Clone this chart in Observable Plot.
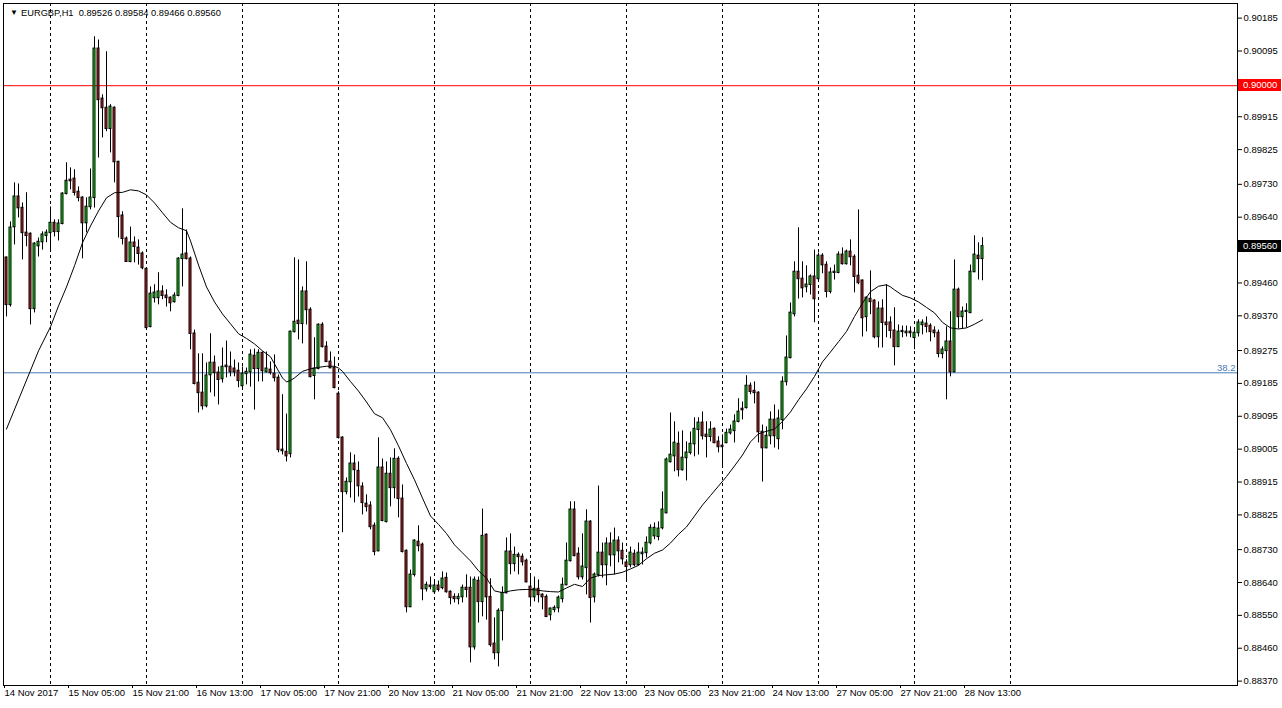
<!DOCTYPE html>
<html><head><meta charset="utf-8">
<script src="https://cdn.jsdelivr.net/npm/d3@7"></script>
<script src="https://cdn.jsdelivr.net/npm/@observablehq/plot@0.6"></script>
<style>html,body{margin:0;padding:0;background:#fff;overflow:hidden}svg{display:block}</style>
</head><body><div id="chart"></div>
<script>
// EURGBP H1 candles, 14 Nov 2017 13:00 .. 28 Nov 2017 17:00 (index = bar number)
const open = [
.89529,.89400,.89613,.89696,.89665,.89597,.89594,.89389,.89561,.89572,
.89589,.89597,.89624,.89600,.89622,.89704,.89742,.89745,.89709,.89693,
.89624,.89668,.89693,.90101,.89964,.89939,.89882,.89939,.89791,.89644,
.89581,.89518,.89570,.89556,.89540,.89498,.89340,.89419,.89419,.89436,
.89425,.89419,.89408,.89425,.89526,.89540,.89526,.89321,.89186,.89159,
.89123,.89208,.89241,.89214,.89197,.89233,.89230,.89225,.89219,.89178,
.89211,.89216,.89260,.89225,.89268,.89216,.89222,.89211,.89200,.89003,
.88997,.88992,.89326,.89356,.89348,.89436,.89386,.89206,.89225,.89345,
.89285,.89244,.89227,.89156,.89036,.88888,.88915,.88965,.88945,.88902,
.88855,.88850,.88795,.88726,.88954,.88806,.88937,.88899,.88978,.88869,
.88726,.88573,.88661,.88751,.88743,.88622,.88631,.88614,.88631,.88625,
.88652,.88614,.88600,.88595,.88600,.88625,.88625,.88463,.88644,.88587,
.88770,.88600,.88472,.88447,.88562,.88611,.88724,.88691,.88715,.88710,
.88699,.88628,.88600,.88622,.88606,.88600,.88551,.88565,.88570,.88595,
.88633,.88699,.88839,.88718,.88655,.88680,.88806,.88600,.88661,.88721,
.88688,.88746,.88715,.88754,.88726,.88694,.88688,.88718,.88688,.88718,
.88721,.88748,.88767,.88765,.88789,.88830,.88970,.88986,.89019,.88948,
.88981,.88995,.89019,.89058,.89077,.89044,.89039,.89060,.89025,.89014,
.89022,.89049,.89055,.89080,.89115,.89118,.89178,.89164,.89159,.89052,
.89008,.89041,.89085,.89033,.89085,.89189,.89255,.89375,.89490,.89471,
.89449,.89455,.89477,.89471,.89534,.89509,.89436,.89488,.89488,.89537,
.89512,.89545,.89531,.89479,.89466,.89367,.89416,.89411,.89312,.89389,
.89351,.89351,.89329,.89285,.89326,.89323,.89326,.89310,.89323,.89345,
.89348,.89342,.89329,.89323,.89266,.89274,.89299,.89216,.89441,.89367,
.89381,.89378,.89490,.89534,.89526];
const high = [
.89531,.89627,.89734,.89731,.89679,.89707,.89597,.89570,.89583,.89600,
.89605,.89668,.89633,.89633,.89707,.89789,.89775,.89770,.89723,.89696,
.89693,.89772,.90134,.90125,.89975,.90093,.89948,.89942,.89793,.89655,
.89586,.89613,.89586,.89578,.89545,.89500,.89449,.89455,.89488,.89452,
.89441,.89422,.89433,.89529,.89663,.89605,.89531,.89331,.89266,.89266,
.89241,.89321,.89260,.89230,.89282,.89301,.89271,.89249,.89241,.89230,
.89227,.89277,.89279,.89277,.89271,.89271,.89244,.89263,.89208,.89154,
.89101,.89328,.89529,.89523,.89449,.89518,.89392,.89310,.89348,.89351,
.89299,.89271,.89257,.89162,.89039,.88926,.88995,.88989,.88970,.88913,
.88880,.88861,.88803,.89036,.88978,.88970,.88981,.89006,.88984,.88907,
.88729,.88674,.88757,.88795,.88748,.88641,.88655,.88647,.88644,.88669,
.88666,.88617,.88609,.88609,.88633,.88661,.88655,.88655,.88655,.88841,
.88773,.88650,.88543,.88568,.88628,.88762,.88773,.88737,.88721,.88718,
.88704,.88663,.88655,.88647,.88609,.88606,.88570,.88576,.88603,.88652,
.88748,.88861,.88861,.88735,.88773,.88839,.88809,.88666,.88904,.88748,
.88762,.88776,.88789,.88765,.88748,.88702,.88737,.88729,.88748,.88735,
.88765,.88798,.88803,.88806,.88888,.88981,.89104,.89080,.89052,.89055,
.89025,.89052,.89091,.89091,.89107,.89080,.89080,.89063,.89039,.89044,
.89060,.89071,.89099,.89143,.89134,.89206,.89186,.89189,.89162,.89071,
.89066,.89107,.89126,.89112,.89203,.89315,.89405,.89518,.89611,.89518,
.89507,.89482,.89550,.89542,.89540,.89518,.89501,.89509,.89545,.89556,
.89550,.89578,.89537,.89660,.89468,.89422,.89493,.89414,.89408,.89414,
.89455,.89367,.89392,.89345,.89342,.89342,.89340,.89331,.89359,.89359,
.89367,.89348,.89340,.89331,.89285,.89340,.89381,.89523,.89446,.89394,
.89403,.89509,.89589,.89570,.89584];
const low = [
.89367,.89394,.89564,.89638,.89523,.89559,.89345,.89378,.89531,.89550,
.89570,.89545,.89586,.89575,.89619,.89701,.89715,.89698,.89682,.89526,
.89597,.89660,.89665,.89802,.89857,.89874,.89816,.89734,.89583,.89564,
.89516,.89515,.89515,.89509,.89496,.89331,.89337,.89405,.89400,.89414,
.89394,.89381,.89405,.89422,.89449,.89523,.89277,.89181,.89104,.89112,
.89118,.89159,.89148,.89126,.89186,.89200,.89203,.89203,.89173,.89167,
.89181,.89175,.89112,.89189,.89189,.89214,.89208,.89189,.88995,.88989,
.88970,.88981,.89323,.89304,.89293,.89345,.89200,.89140,.89222,.89282,
.89242,.89225,.89170,.89033,.88776,.88880,.88871,.88858,.88874,.88825,
.88833,.88784,.88713,.88724,.88806,.88803,.88847,.88869,.88817,.88721,
.88557,.88571,.88655,.88724,.88590,.88614,.88620,.88611,.88614,.88620,
.88611,.88579,.88584,.88579,.88584,.88598,.88420,.88455,.88529,.88546,
.88537,.88463,.88428,.88409,.88480,.88609,.88661,.88669,.88661,.88685,
.88639,.88573,.88587,.88584,.88565,.88544,.88535,.88557,.88557,.88584,
.88631,.88696,.88710,.88647,.88647,.88606,.88529,.88584,.88655,.88652,
.88631,.88683,.88661,.88694,.88688,.88641,.88680,.88683,.88685,.88688,
.88707,.88743,.88757,.88754,.88784,.88828,.88967,.88943,.88929,.88945,
.88918,.88989,.88984,.88989,.89030,.88981,.89025,.89020,.88995,.88954,
.89020,.89044,.89022,.89077,.89085,.89115,.89154,.89129,.89022,.88915,
.89006,.89017,.89008,.89003,.89058,.89178,.89252,.89367,.89416,.89419,
.89433,.89427,.89351,.89466,.89485,.89419,.89430,.89468,.89485,.89509,
.89509,.89507,.89433,.89455,.89312,.89326,.89373,.89307,.89282,.89282,
.89310,.89307,.89233,.89283,.89310,.89312,.89310,.89277,.89312,.89318,
.89323,.89299,.89310,.89255,.89252,.89140,.89203,.89214,.89334,.89334,
.89337,.89376,.89488,.89468,.89466];
const close = [
.89400,.89611,.89696,.89665,.89597,.89589,.89389,.89567,.89572,.89592,
.89597,.89624,.89600,.89622,.89704,.89739,.89739,.89707,.89693,.89624,
.89668,.89693,.90101,.89961,.89939,.89882,.89942,.89791,.89641,.89581,
.89518,.89570,.89559,.89540,.89501,.89337,.89430,.89433,.89436,.89425,
.89419,.89405,.89425,.89526,.89537,.89526,.89321,.89184,.89159,.89123,
.89206,.89241,.89214,.89195,.89230,.89230,.89216,.89216,.89192,.89211,
.89216,.89263,.89225,.89268,.89219,.89225,.89214,.89200,.89003,.89000,
.88986,.89326,.89353,.89348,.89436,.89386,.89203,.89225,.89345,.89285,
.89244,.89227,.89173,.89036,.88888,.88915,.88965,.88948,.88904,.88858,
.88847,.88792,.88724,.88954,.88809,.88937,.88899,.88978,.88869,.88724,
.88573,.88661,.88754,.88740,.88622,.88633,.88628,.88631,.88620,.88650,
.88614,.88598,.88595,.88600,.88625,.88620,.88463,.88647,.88587,.88767,
.88600,.88469,.88447,.88562,.88611,.88724,.88691,.88715,.88710,.88696,
.88641,.88600,.88622,.88606,.88600,.88546,.88568,.88570,.88598,.88633,
.88699,.88839,.88713,.88655,.88683,.88806,.88598,.88661,.88721,.88688,
.88746,.88715,.88754,.88726,.88704,.88683,.88721,.88688,.88721,.88721,
.88748,.88789,.88789,.88787,.88839,.88976,.88989,.89022,.88948,.88981,
.88995,.89019,.89060,.89077,.89041,.89039,.89058,.89022,.89011,.89011,
.89049,.89058,.89080,.89107,.89112,.89178,.89162,.89159,.89052,.89008,
.89041,.89085,.89041,.89088,.89189,.89255,.89378,.89490,.89471,.89446,
.89455,.89477,.89416,.89534,.89509,.89436,.89488,.89490,.89537,.89512,
.89545,.89531,.89477,.89460,.89364,.89419,.89408,.89312,.89389,.89351,
.89345,.89329,.89285,.89326,.89328,.89326,.89323,.89323,.89351,.89351,
.89340,.89326,.89323,.89266,.89277,.89299,.89216,.89441,.89367,.89381,
.89383,.89490,.89537,.89526,.89560];

// moving average (bar index, value)
const maIdx = [0,4,8,11,13,15,17,19,21,23,25,27,29,31,33,35,37,39,41,43,45,46,48,50,52,54,56,58,60,62,64,66,68,69,70,71,72,74,76,78,80,82,83,84,86,88,90,92,94,96,98,100,102,104,106,108,110,112,114,116,118,120,122,124,126,128,130,132,134,136,138,140,142,144,146,148,150,152,154,156,158,160,162,164,166,168,170,172,174,176,178,180,182,184,186,188,190,192,194,196,198,200,202,204,206,208,210,212,214,216,218,220,221,222,224,226,228,230,232,234,236,238,240,242,244];
const maVal = [.89060,.89167,.89274,.89340,.89397,.89449,.89507,.89570,.89616,.89657,.89693,.89707,.89708,.89715,.89712,.89701,.89679,.89652,.89626,.89611,.89603,.89575,.89509,.89449,.89408,.89375,.89348,.89321,.89308,.89293,.89274,.89258,.89219,.89200,.89189,.89193,.89200,.89218,.89225,.89229,.89232,.89232,.89227,.89218,.89190,.89164,.89134,.89102,.89091,.89058,.89014,.88966,.88921,.88871,.88822,.88799,.88774,.88743,.88721,.88699,.88672,.88652,.88617,.88612,.88617,.88620,.88621,.88620,.88617,.88615,.88614,.88625,.88635,.88629,.88652,.88659,.88661,.88663,.88668,.88677,.88687,.88705,.88720,.88729,.88748,.88772,.88792,.88822,.88852,.88878,.88904,.88930,.88959,.88989,.89025,.89047,.89054,.89060,.89081,.89107,.89140,.89170,.89204,.89244,.89271,.89299,.89327,.89368,.89405,.89436,.89451,.89455,.89449,.89441,.89426,.89419,.89408,.89393,.89378,.89352,.89337,.89334,.89337,.89347,.89359];

const daySep = [11,35,59,83,107,131,155,179,203,227,251];
const xTickIdx = [0,16,32,48,64,80,96,112,128,144,160,176,192,208,224,240];
const xTickLabels = ["14 Nov 2017","15 Nov 05:00","15 Nov 21:00","16 Nov 13:00","17 Nov 05:00","17 Nov 21:00","20 Nov 13:00","21 Nov 05:00","21 Nov 21:00","22 Nov 13:00","23 Nov 05:00","23 Nov 21:00","24 Nov 13:00","27 Nov 05:00","27 Nov 21:00","28 Nov 13:00"];
// price-scale labels (those under the two price boxes are hidden in the original)
const yTicks = [0.90185,0.90095,0.89915,0.89825,0.89730,0.89640,0.89460,0.89370,0.89275,0.89185,0.89095,0.89005,0.88915,0.88825,0.88730,0.88640,0.88550,0.88460,0.88370];
const roundLevel = 0.90000;
const fibLevel = 0.89214;
const fibLabel = "38.2";
const lastPrice = 0.89560;
const header = "EURGBP,H1\u00a0\u00a00.89526 0.89584 0.89466 0.89560";

const bars = close.map((c, i) => ({i, o: open[i], h: high[i], l: low[i], c}));
const ma = maIdx.map((i, k) => ({i, v: maVal[k]}));
const xLab = new Map(xTickIdx.map((d, k) => [d, xTickLabels[k]]));
const fmt = d3.format(".5f");
const GREEN = "#00f000", RED = "#d21c1c";

function priceBox(value, bg) {
  return (index, scales, values, dimensions) => {
    const y = Math.round(scales.y(value));
    const x0 = dimensions.width - dimensions.marginRight + 1;
    const g = d3.create("svg:g");
    g.append("rect").attr("x", x0).attr("y", y - 6).attr("width", 43).attr("height", 12).attr("fill", bg);
    g.append("text").attr("x", x0 + 5).attr("y", y).attr("dy", "0.35em").attr("fill", "#fff")
      .attr("text-anchor", "start").attr("font-size", "9.5px").text(fmt(value));
    return g.node();
  };
}

const chart = Plot.plot({
  width: 1282, height: 708,
  marginLeft: 3, marginTop: 3, marginRight: 45, marginBottom: 23,
  style: {fontFamily: "'Liberation Sans', Arial, sans-serif", fontSize: "9.5px", background: "#fff", color: "#000", overflow: "visible"},
  x: {type: "linear", domain: [-0.75, 307.75]},
  y: {type: "linear", domain: [0.88358, 0.90225]},
  marks: [
    Plot.ruleX(daySep, {stroke: "#000", strokeDasharray: "3,3"}),
    Plot.ruleY([roundLevel], {stroke: "#ff0000"}),
    Plot.ruleY([fibLevel], {stroke: "#4a7db5"}),
    Plot.text([{y: fibLevel, t: fibLabel}], {y: "y", text: "t", frameAnchor: "right", textAnchor: "end", lineAnchor: "middle", dx: -2, dy: -5, fill: "#4a7db5"}),
    Plot.ruleX(bars, {x: "i", y1: "l", y2: "h", stroke: "#000"}),
    Plot.rect(bars, {x1: d => d.i - 0.25, x2: d => d.i + 0.25, y1: "o", y2: "c", insetTop: -0.25, insetBottom: -0.25,
      fill: d => d.c >= d.o ? GREEN : RED, stroke: "#000", strokeWidth: 1}),
    Plot.line(ma, {x: "i", y: "v", stroke: "#000", strokeWidth: 1}),
    Plot.frame({stroke: "#000"}),
    Plot.axisY(yTicks, {anchor: "right", tickSize: 4, tickPadding: 2, tickFormat: fmt, label: null}),
    Plot.axisX(xTickIdx, {anchor: "bottom", tickSize: 3, tickPadding: 1, tickFormat: d => xLab.get(d), textAnchor: "start", dx: -2, label: null}),
    Plot.text(["\u25bc"], {frameAnchor: "top-left", text: d => d, dx: 6.5, dy: 9, fontSize: 8, lineAnchor: "middle"}),
    Plot.text([header], {frameAnchor: "top-left", text: d => d, dx: 17.5, dy: 6, fontSize: 9.3, lineAnchor: "top"}),
    priceBox(roundLevel, "#ff0000"),
    priceBox(lastPrice, "#000")
  ]
});
document.getElementById("chart").appendChild(chart);
</script>
</body></html>
